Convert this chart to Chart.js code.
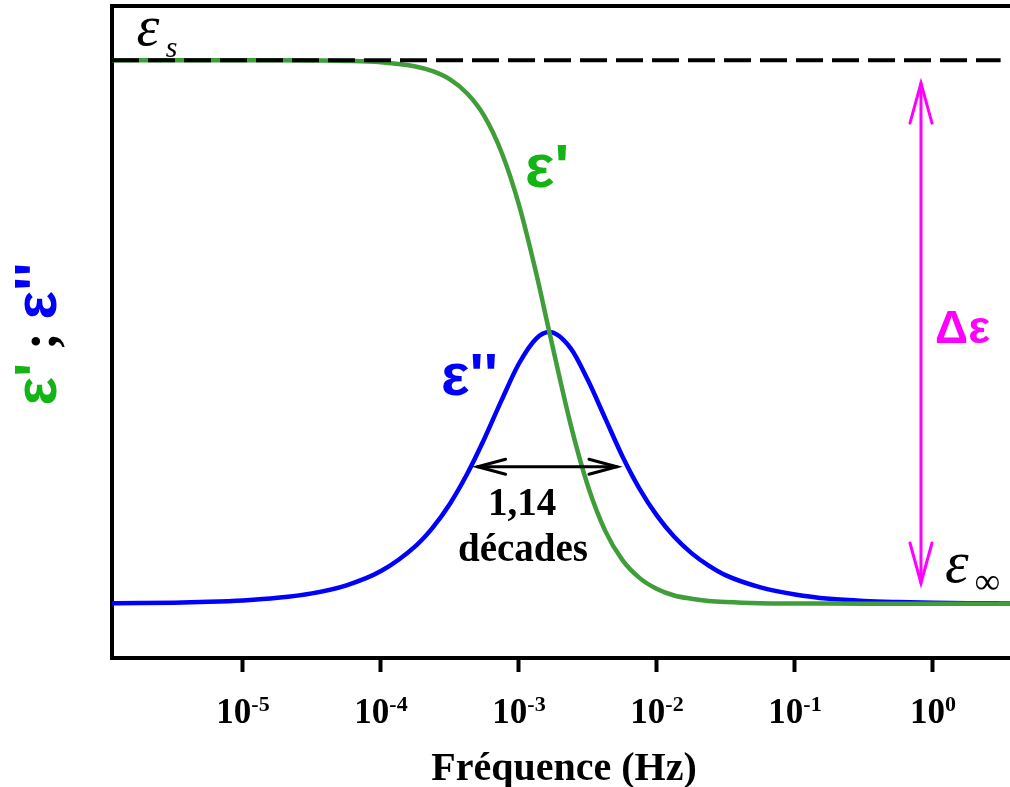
<!DOCTYPE html>
<html>
<head>
<meta charset="utf-8">
<script src="https://cdn.jsdelivr.net/npm/chart.js@4/dist/chart.umd.min.js"></script>
<style>
  html, body { margin:0; padding:0; background:#fff; overflow:hidden; }
  #wrap { width:1010px; height:787px; }
</style>
</head>
<body>
<div id="wrap"><canvas id="chart" width="1010" height="787"></canvas></div>
<script>
// ── Data ────────────────────────────────────────────────
const logFreq  = [-6.0,-5.75,-5.5,-5.25,-5.0,-4.75,-4.5,-4.25,-4.0,-3.75,-3.625,-3.5,-3.375,-3.25,-3.125,-3.0,-2.875,-2.78,
                  -2.625,-2.5,-2.375,-2.25,-2.125,-2.0,-1.875,-1.75,-1.625,-1.5,-1.25,-1.0,-0.75,-0.5,-0.25,0,0.25,0.5,0.6];
const epsReal  = [11.0,11.0,11.0,11.0,11.0,11.0,10.996,10.989,10.964,10.886,10.80,10.65,10.39,9.97,9.30,8.34,7.08,6.00,
                  4.29,3.16,2.34,1.80,1.47,1.27,1.15,1.09,1.05,1.03,1.009,1.003,1.001,1.0,1.0,1.0,1.0,1.0,1.0];
const epsImag  = [1.006,1.011,1.019,1.034,1.060,1.107,1.190,1.338,1.600,2.060,2.40,2.84,3.39,4.04,4.75,5.42,5.88,6.00,
                  5.70,5.11,4.41,3.71,3.11,2.62,2.23,1.93,1.70,1.52,1.30,1.17,1.09,1.05,1.03,1.017,1.009,1.005,1.004];
const EPS_S    = 11;
const EPS_INF  = 1;
const tickExps = [-5,-4,-3,-2,-1,0];
const X_MIN_LOG = -5.949, X_MAX_LOG = 0.558, DASH_END_LOG = 0.49;

const GREEN_LINE = "#3f9e3a", GREEN_TXT = "#14b414", BLUE = "#0000ff", MAGENTA = "#ff00ff";
const SERIF = "'Liberation Serif', 'Times New Roman', serif";
const SANS  = "'Liberation Sans', Arial, sans-serif";

const pts = (ys) => logFreq.map((e,i) => ({ x: 10**e, y: ys[i] }));

// ── Annotation helpers ──────────────────────────────────
function arrowHead(ctx, tx, ty, fx, fy, len, half) {
  const a = Math.atan2(ty-fy, tx-fx);
  ctx.beginPath();
  ctx.moveTo(tx - len*Math.cos(a) + half*Math.sin(a), ty - len*Math.sin(a) - half*Math.cos(a));
  ctx.lineTo(tx, ty);
  ctx.lineTo(tx - len*Math.cos(a) - half*Math.sin(a), ty - len*Math.sin(a) + half*Math.cos(a));
  ctx.stroke();
}
function dblArrow(ctx, x1, y1, x2, y2, color, lw, len, half) {
  ctx.save();
  ctx.strokeStyle = color; ctx.lineWidth = lw; ctx.lineCap = "round"; ctx.lineJoin = "miter";
  ctx.beginPath(); ctx.moveTo(x1,y1); ctx.lineTo(x2,y2); ctx.stroke();
  arrowHead(ctx, x1, y1, x2, y2, len, half);
  arrowHead(ctx, x2, y2, x1, y1, len, half);
  ctx.restore();
}
function txt(ctx, s, x, y, font, color, align) {
  ctx.font = font; ctx.fillStyle = color; ctx.textAlign = align || "left"; ctx.textBaseline = "alphabetic";
  ctx.fillText(s, x, y);
}

const annotations = {
  id: "annotations",
  afterDatasetsDraw(chart) {
    const ctx = chart.ctx, xs = chart.scales.x, ys = chart.scales.y;
    const X = (l) => xs.getPixelForValue(10**l), Y = (v) => ys.getPixelForValue(v);
    ctx.save();
    // εs, ε∞
    txt(ctx, "ε", X(-5.772), Y(11.28), "italic 58px " + SERIF, "#000");
    txt(ctx, "s", X(-5.559), Y(11.06), "italic 30px " + SERIF, "#000");
    txt(ctx, "ε", X(0.087), Y(1.40), "italic 60px " + SERIF, "#000");
    txt(ctx, "∞", X(0.300), Y(1.20), "36px " + SERIF, "#000");
    // curve labels
    txt(ctx, "ε'", X(-2.956), Y(8.67), "bold 62px " + SANS, GREEN_TXT);
    txt(ctx, "ε''", X(-3.565), Y(4.84), "bold 60px " + SANS, BLUE);
    txt(ctx, "Δε", X(0.015), Y(5.80), "bold 46px " + SANS, MAGENTA);
    // Δε arrow
    dblArrow(ctx, X(-0.087), Y(10.58), X(-0.087), Y(1.38), MAGENTA, 3, 40, 11);
    // width arrow
    dblArrow(ctx, X(-3.300), Y(3.52), X(-2.290), Y(3.52), "#000", 3, 28, 7.5);
    txt(ctx, "1,14", X(-2.978), Y(2.63), "bold 39px " + SERIF, "#000", "center");
    txt(ctx, "décades", X(-2.971), Y(1.785), "bold 39px " + SERIF, "#000", "center");
    ctx.restore();
  },
  afterDraw(chart) {
    const ctx = chart.ctx, xs = chart.scales.x;
    ctx.save();
    // tick labels 10^n
    tickExps.forEach(e => {
      const px = xs.getPixelForValue(10**e);
      ctx.font = "bold 35px " + SERIF; const wb = ctx.measureText("10").width;
      ctx.font = "bold 22px " + SERIF; const we = ctx.measureText(String(e)).width;
      const x0 = px - (wb + we)/2;
      txt(ctx, "10", x0, 723, "bold 35px " + SERIF, "#000");
      txt(ctx, String(e), x0 + wb, 711, "bold 22px " + SERIF, "#000");
    });
    // axis title
    txt(ctx, "Fréquence (Hz)", 564, 780, "bold 40px " + SERIF, "#000", "center");
    // y title: ε' ; ε''
    ctx.translate(56, 334);
    ctx.rotate(-Math.PI/2);
    const parts = [["ε'", GREEN_TXT, "bold 60px " + SANS], [" ; ", "#000", "bold 52px " + SERIF], ["ε''", BLUE, "bold 60px " + SANS]];
    let total = 0;
    parts.forEach(p => { ctx.font = p[2]; total += ctx.measureText(p[0]).width; });
    let cx = -total/2;
    parts.forEach(p => {
      txt(ctx, p[0], cx, 0, p[2], p[1]);
      ctx.font = p[2]; cx += ctx.measureText(p[0]).width;
    });
    ctx.restore();
  }
};

new Chart(document.getElementById("chart"), {
  type: "line",
  data: {
    datasets: [
      { label: "eps_s", data: [{ x: 10**X_MIN_LOG, y: EPS_S }, { x: 10**DASH_END_LOG, y: EPS_S }],
        borderColor: "#000", borderWidth: 4, borderDash: [27, 9], pointRadius: 0, order: 0 },
      { label: "eps'",  data: pts(epsReal), borderColor: GREEN_LINE, borderWidth: 4.5,
        cubicInterpolationMode: "monotone", pointRadius: 0, order: 1 },
      { label: "eps''", data: pts(epsImag), borderColor: BLUE, borderWidth: 4.5,
        cubicInterpolationMode: "monotone", pointRadius: 0, order: 2 },
    ]
  },
  options: {
    responsive: false, animation: false, devicePixelRatio: 1,
    layout: { padding: 0 },
    plugins: { legend: { display: false }, tooltip: { enabled: false } },
    scales: {
      x: {
        type: "logarithmic", position: "bottom",
        min: 10**X_MIN_LOG, max: 10**X_MAX_LOG,
        afterBuildTicks: (s) => { s.ticks = tickExps.map(e => ({ value: 10**e })); },
        afterFit: (s) => { s.height = 129; },
        ticks: { display: false },
        grid: { display: true, drawOnChartArea: false, drawTicks: true, tickLength: 14, tickWidth: 4, tickColor: "#000" },
        border: { display: true, width: 4, color: "#000" }
      },
      xTop: {
        type: "linear", position: "top", min: 0, max: 1,
        afterFit: (s) => { s.height = 6; },
        ticks: { display: false },
        grid: { display: false },
        border: { display: true, width: 4, color: "#000" }
      },
      y: {
        type: "linear", min: 0, max: 12,
        afterFit: (s) => { s.width = 112; },
        ticks: { display: false },
        grid: { display: false },
        border: { display: true, width: 4, color: "#000" }
      }
    }
  },
  plugins: [annotations]
});
</script>
</body>
</html>
